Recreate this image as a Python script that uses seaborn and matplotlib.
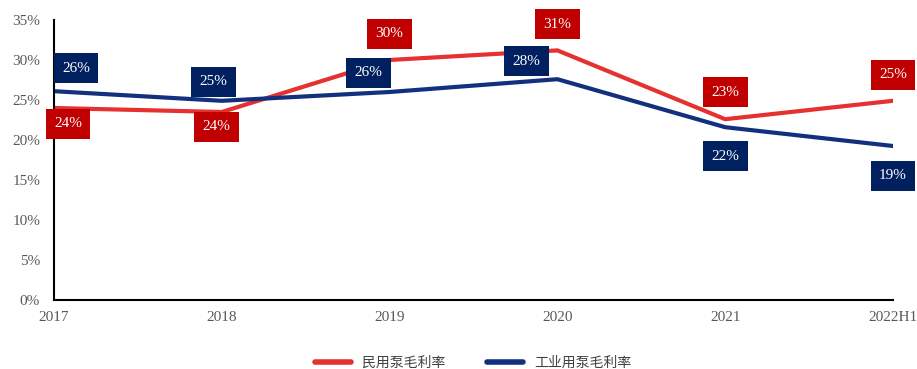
import matplotlib
matplotlib.use("Agg")
import matplotlib.pyplot as plt
import seaborn as sns
import pandas as pd

years = ["2017", "2018", "2019", "2020", "2021", "2022H1"]
civil = [24.0, 23.5, 30.0, 31.2, 22.6, 24.9]
industrial = [26.1, 24.9, 26.0, 27.6, 21.6, 19.25]
civil_labels = ["24%", "24%", "30%", "31%", "23%", "25%"]
industrial_labels = ["26%", "25%", "26%", "28%", "22%", "19%"]
series_names = ["民用泵毛利率", "工业用泵毛利率"]

sns.set_style("white")
plt.rcParams["font.family"] = ["Liberation Serif", "Noto Sans CJK SC", "DejaVu Sans"]

df = pd.DataFrame({
    "year": years * 2,
    "value": civil + industrial,
    "series": [series_names[0]] * 6 + [series_names[1]] * 6,
})

line_colors = {series_names[0]: "#E5312F", series_names[1]: "#13307F"}
box_colors = ["#C00000", "#002060"]

fig = plt.figure(figsize=(9.17, 3.69), dpi=100)
ax = fig.add_axes([0.0589, 0.187, 0.9149, 0.7588])
sns.lineplot(data=df, x="year", y="value", hue="series", palette=line_colors,
             linewidth=3, ax=ax, sort=False, legend=False)

ax.set_xlim(0, 5)
ax.set_ylim(0, 35)
ax.set_yticks(range(0, 36, 5))
ax.set_yticklabels([f"{v}%" for v in range(0, 36, 5)])
ax.set_xlabel("")
ax.set_ylabel("")
for s in ["top", "right"]:
    ax.spines[s].set_visible(False)
for s in ["left", "bottom"]:
    ax.spines[s].set_color("black")
    ax.spines[s].set_linewidth(1.5)
ax.tick_params(axis="both", direction="in", length=4, width=1.5, colors="black",
               labelcolor="#595959", labelsize=11)
ax.tick_params(axis="y", pad=10)
ax.tick_params(axis="x", pad=8)

civ_off = [(14, -16), (-5, -15), (0, 26), (0, 26), (0, 27), (0, 26)]
ind_off = [(22, 23), (-8, 19), (-21, 19), (-31, 18), (0, -29), (0, -30)]

def label(vals, labels, offs, color):
    for i, (v, t, o) in enumerate(zip(vals, labels, offs)):
        ax.annotate(t, (i, v), xytext=(o[0] * 0.72, o[1] * 0.72), textcoords="offset points",
                    ha="center", va="center", color="white", fontsize=11,
                    bbox=dict(boxstyle="square,pad=0.55", fc=color, ec="none"),
                    annotation_clip=False, zorder=5)

label(industrial, industrial_labels, ind_off, box_colors[1])
label(civil, civil_labels, civ_off, box_colors[0])

from matplotlib.lines import Line2D
handles = [Line2D([0], [0], color=line_colors[n], lw=4, solid_capstyle="round") for n in series_names]
leg = ax.legend(handles, series_names, loc="center", bbox_to_anchor=(0.5, -0.225), ncol=2,
                frameon=False, handlelength=2.6, columnspacing=3,
                prop={"family": ["Noto Sans CJK SC"], "size": 10})
for t in leg.get_texts():
    t.set_color("#404040")

fig.savefig("out.png", dpi=100)
